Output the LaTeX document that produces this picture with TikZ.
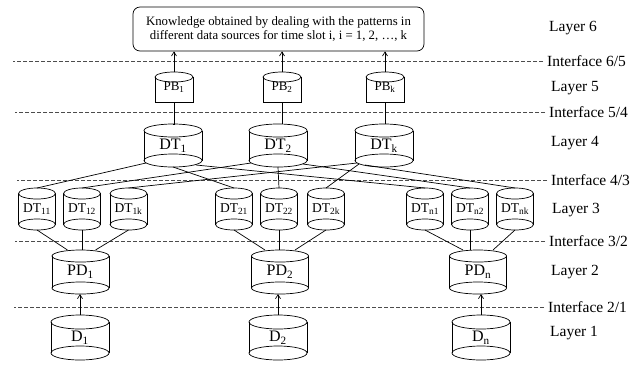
\documentclass[tikz,border=0pt]{standalone}
\usepackage{fontspec}
\setmainfont{Liberation Serif}
\usetikzlibrary{arrows.meta,calc}
% name, cx, ytop, ybot, half width, ry, font size, text
\newcommand\mkcyl[8]{%
  \node[cylnode, minimum width={2*#5pt}, minimum height={(#4-#3)*1pt},
        font=\fontsize{#7}{#7}\selectfont] (#1) at (#2,{(#3+#4)/2}) {#8};
  \draw[cylline] ([yshift=-#6pt]#1.north west) -- ([yshift=#6pt]#1.south west)
                 ([yshift=-#6pt]#1.north east) -- ([yshift=#6pt]#1.south east);
  \draw[cylline] ([yshift=-#6pt]#1.north) ellipse [x radius=#5pt, y radius=#6pt];
  \draw[cylline] ([yshift=#6pt]#1.south) ellipse [x radius=#5pt, y radius=#6pt];
}
% flat-bottomed cylinder
\newcommand\mkpb[8]{%
  \node[cylnode, minimum width={2*#5pt}, minimum height={(#4-#3)*1pt},
        font=\fontsize{#7}{#7}\selectfont] (#1) at (#2,{(#3+#4)/2}) {#8};
  \draw[cylline] ([yshift=-#6pt]#1.north west) -- (#1.south west) -- (#1.south east)
                 -- ([yshift=-#6pt]#1.north east);
  \draw[cylline] ([yshift=-#6pt]#1.north) ellipse [x radius=#5pt, y radius=#6pt];
}
\tikzset{
  cylnode/.style={inner sep=0pt, outer sep=0pt},
  cylline/.style={line width=0.7pt},
  conn/.style={line width=0.7pt},
  arr/.style={line width=0.7pt, -{Straight Barb[length=4pt,width=5pt]}},
  dashline/.style={line width=0.6pt, dash pattern=on 4pt off 2pt, black!70},
  lab/.style={anchor=west, inner sep=0pt, font=\fontsize{15.5}{17}\selectfont},
}
\begin{document}
\begin{tikzpicture}[x=1pt, y=-1pt]
\useasboundingbox[fill=white] (0,0) rectangle (640,365);

% Layer 6 box
\node[draw, line width=0.7pt, rounded corners=7pt, minimum width=291pt, minimum height=44pt,
      align=center, inner sep=0pt, font=\fontsize{12.8}{14}\selectfont]
  (top) at (278.5,29) {Knowledge obtained by dealing with the patterns in\\
  different data sources for time slot i, i = 1, 2, \dots, k};

% Layer 5
\mkpb{PB1}{174}{72}{102}{19}{5}{13}{PB\textsubscript{1}}
\mkpb{PB2}{282}{72}{102}{19}{5}{13}{PB\textsubscript{2}}
\mkpb{PBk}{385}{72}{102}{19}{5}{13}{PB\textsubscript{k}}

% Layer 4
\mkcyl{DT1}{173}{124}{167}{29}{6.5}{16}{DT\textsubscript{1}}
\mkcyl{DT2}{278}{124}{167}{29}{6.5}{16}{DT\textsubscript{2}}
\mkcyl{DTk}{384}{124}{167}{29}{6.5}{16}{DT\textsubscript{k}}

% Layer 3
\mkcyl{DT11}{37}{188}{230}{18.5}{5.5}{13.5}{DT\textsubscript{11}}
\mkcyl{DT12}{82}{188}{230}{18.5}{5.5}{13.5}{DT\textsubscript{12}}
\mkcyl{DT1k}{128.5}{188}{230}{18.5}{5.5}{13.5}{DT\textsubscript{1k}}
\mkcyl{DT21}{234}{188}{230}{18.5}{5.5}{13.5}{DT\textsubscript{21}}
\mkcyl{DT22}{279}{188}{230}{18.5}{5.5}{13.5}{DT\textsubscript{22}}
\mkcyl{DT2k}{326}{188}{230}{18.5}{5.5}{13.5}{DT\textsubscript{2k}}
\mkcyl{DTn1}{425}{188}{230}{18.5}{5.5}{13.5}{DT\textsubscript{n1}}
\mkcyl{DTn2}{470}{188}{230}{18.5}{5.5}{13.5}{DT\textsubscript{n2}}
\mkcyl{DTnk}{515}{188}{230}{18.5}{5.5}{13.5}{DT\textsubscript{nk}}

% Layer 2
\mkcyl{PD1}{80.5}{250}{294}{28.5}{6}{16}{PD\textsubscript{1}}
\mkcyl{PD2}{280}{250}{294}{28.5}{6}{16}{PD\textsubscript{2}}
\mkcyl{PDn}{478}{250}{294}{28.5}{6}{16}{PD\textsubscript{n}}

% Layer 1
\mkcyl{D1}{80}{315}{360}{29}{7}{16}{D\textsubscript{1}}
\mkcyl{D2}{278}{315}{360}{29}{7}{16}{D\textsubscript{2}}
\mkcyl{Dn}{481}{315}{360}{29}{7}{16}{D\textsubscript{n}}

% Interfaces and layer labels
\node[lab] (L6) at (549,28) {Layer 6};
\node[lab] (I65) at (547,61) {Interface 6/5};
\node[lab] (L5) at (551,88) {Layer 5};
\node[lab] (I54) at (549,112) {Interface 5/4};
\node[lab] (L4) at (551,143) {Layer 4};
\node[lab] (I43) at (551,180) {Interface 4/3};
\node[lab] (L3) at (552,210) {Layer 3};
\node[lab] (I32) at (549,241) {Interface 3/2};
\node[lab] (L2) at (551,272) {Layer 2};
\node[lab] (I21) at (548,307) {Interface 2/1};
\node[lab] (L1) at (550,333) {Layer 1};

\foreach \i in {I65,I54,I43,I32,I21}
  \draw[dashline] ([xshift=-4pt]\i.west) -- ++(-530,0);

% Layer 5 -> Layer 6
\foreach \p in {PB1,PB2,PBk}
  \draw[arr] (\p.north) -- (\p.north |- top.south);

% Layer 4 -> Layer 5
\draw[conn] (DT1.north) -- (DT1.north -| PB1.south) -- (PB1.south);
\draw[conn] (DT2.north -| PB2.south) -- (PB2.south);
\draw[conn] (DTk.north -| PBk.south) -- (PBk.south);

% Layer 3 -> Layer 4
\draw[conn] ([xshift=2pt,yshift=4pt]DT1.south west) -- (DT11.north);
\draw[conn] (DT1.south) -- (DT21.north);
\draw[conn] ([xshift=-6pt,yshift=2pt]DT1.south east) -- (DTn1.north);
\draw[conn] ([xshift=2pt,yshift=4pt]DT2.south west) -- (DT12.north);
\draw[conn] (DT2.south) -- (DT22.north);
\draw[conn] ([xshift=-4pt,yshift=3pt]DT2.south east) -- (DTn2.north);
\draw[conn] ([xshift=2pt,yshift=4pt]DTk.south west) -- (DT1k.north);
\draw[conn] ([xshift=4pt,yshift=3pt]DTk.south west) -- (DT2k.north);
\draw[conn] ([xshift=10pt,yshift=2pt]DTk.south west) -- (DTnk.north);

% Layer 2 -> Layer 3
\draw[conn] (DT11.south) -- ([xshift=-13pt]PD1.north);
\draw[conn] (DT12.south) -- (DT12.south |- PD1.north);
\draw[conn] (DT1k.south) -- ([xshift=15pt]PD1.north);
\draw[conn] (DT21.south) -- ([xshift=-15pt]PD2.north);
\draw[conn] (DT22.south) -- (DT22.south |- PD2.north);
\draw[conn] (DT2k.south) -- ([xshift=15pt]PD2.north);
\draw[conn] (DTn1.south) -- ([xshift=-15pt]PDn.north);
\draw[conn] (DTn2.south) -- (DTn2.south |- PDn.north);
\draw[conn] (DTnk.south) -- ([xshift=15pt]PDn.north);

% Layer 1 -> Layer 2
\foreach \d/\p in {D1/PD1,D2/PD2,Dn/PDn}
  \draw[arr] (\d.north) -- (\d.north |- \p.south);
\end{tikzpicture}
\end{document}
